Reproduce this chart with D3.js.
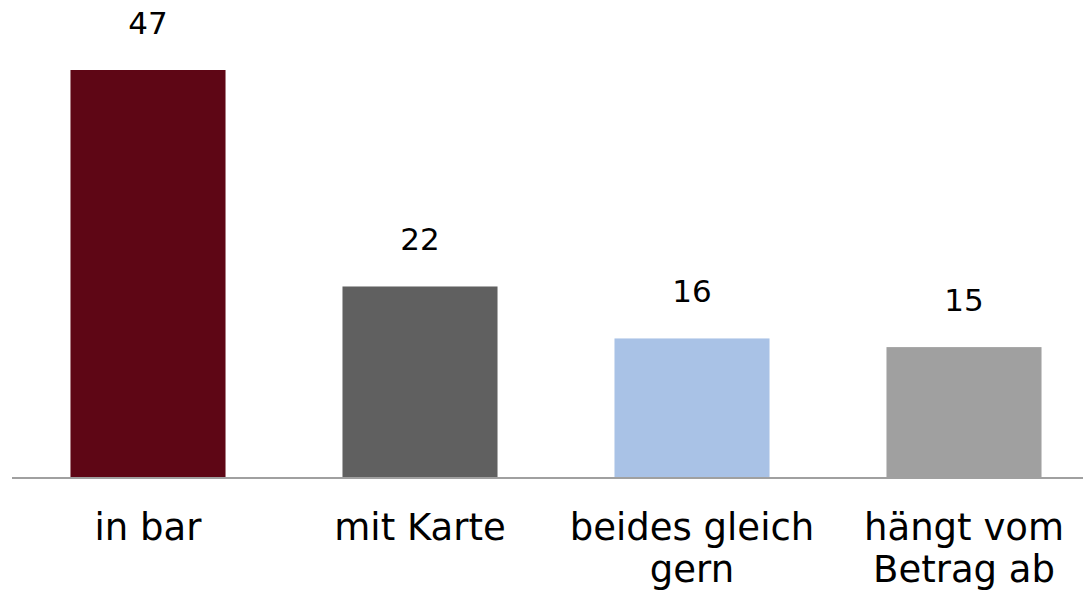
<!DOCTYPE html>
<html>
<head>
<meta charset="utf-8">
<script src="https://cdn.jsdelivr.net/npm/d3@7"></script>
<style>
body{margin:0;background:#fff;}
svg{display:block;font-family:"DejaVu Sans",Verdana,sans-serif;}
</style>
</head>
<body>
<div id="chart"></div>
<script>
// data
var categories=["in bar","mit Karte","beides gleich\ngern","hängt vom\nBetrag ab"];
var values=[47,22,16,15];
var barColors=["#5e0615","#606060","#a9c2e6","#a0a0a0"];

var width=1083,height=593;
var baseY=477;

var svg=d3.select("#chart").append("svg").attr("width",width).attr("height",height);

var x=d3.scaleBand().domain(categories).range([12,1100]).paddingInner(0.43).paddingOuter(0.215);
var y=d3.scaleLinear().domain([0,47]).range([baseY,70]);

// bars
svg.selectAll("rect.bar").data(values).enter().append("rect")
    .attr("class","bar")
    .attr("x",function(d,i){return x(categories[i]);})
    .attr("y",function(d){return y(d);})
    .attr("width",x.bandwidth())
    .attr("height",function(d){return baseY-y(d);})
    .style("fill",function(d,i){return barColors[i];});

// value labels
svg.selectAll("text.val").data(values).enter().append("text")
    .attr("class","val")
    .attr("x",function(d,i){return x(categories[i])+x.bandwidth()/2;})
    .attr("y",function(d){return y(d)-36;})
    .attr("text-anchor","middle")
    .style("font-size","31px").style("fill","#000")
    .text(function(d){return d;});

// axis line
svg.append("line").attr("x1",12).attr("x2",width).attr("y1",baseY+1).attr("y2",baseY+1)
    .style("stroke","#a0a0a0").style("stroke-width","2px");

// category labels
var lab=svg.selectAll("text.cat").data(categories).enter().append("text")
    .attr("class","cat")
    .attr("text-anchor","middle")
    .style("font-size","37px").style("fill","#000");
lab.each(function(d){
    var t=d3.select(this);
    var cx=x(d)+x.bandwidth()/2;
    d.split("\n").forEach(function(line,k){
        t.append("tspan").attr("x",cx).attr("y",540+k*42).text(line);
    });
});
</script>
</body>
</html>
